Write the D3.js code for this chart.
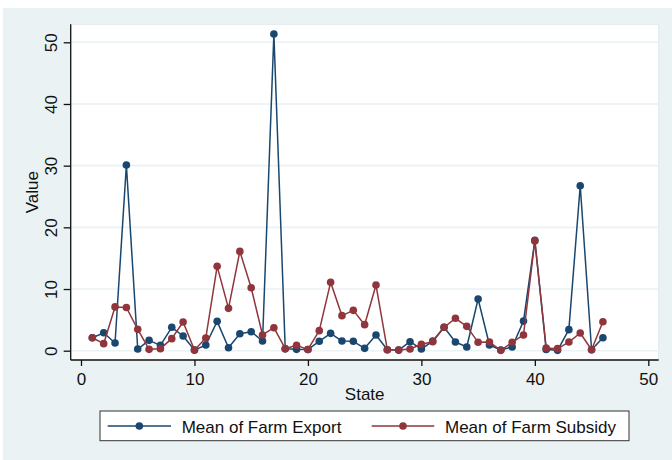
<!DOCTYPE html>
<html>
<head>
<meta charset="utf-8">
<script src="https://cdn.jsdelivr.net/npm/d3@7"></script>
<style>
  html, body { margin: 0; padding: 0; background: #ffffff; }
  svg { display: block; }
  text { font-family: "Liberation Sans", Arial, sans-serif; fill: #111; }
</style>
</head>
<body>
<div id="chart"></div>
<script>
// State index 1..46
const states = d3.range(1, 47);

// Mean of Farm Export by state
const farmExport = [2.1, 2.9, 1.25, 30.1, 0.27, 1.68, 0.87, 3.79, 2.38, 0.1,
  0.92, 4.76, 0.49, 2.76, 3.08, 1.57, 51.35, 0.3, 0.22, 0.2,
  1.52, 2.81, 1.57, 1.52, 0.38, 2.55, 0.15, 0.1, 1.46, 0.27,
  1.57, 3.79, 1.41, 0.6, 8.38, 0.92, 0.1, 0.6, 4.8, 17.9,
  0.2, 0.06, 3.41, 26.75, 0.15, 2.1];

// Mean of Farm Subsidy by state
const farmSubsidy = [2.1, 1.14, 7.1, 7.0, 3.46, 0.22, 0.33, 1.95, 4.65, 0.1,
  2.06, 13.68, 6.87, 16.1, 10.2, 2.55, 3.73, 0.33, 0.87, 0.2,
  3.25, 11.08, 5.68, 6.54, 4.22, 10.65, 0.15, 0.1, 0.27, 1.03,
  1.46, 3.8, 5.25, 3.95, 1.36, 1.4, 0.06, 1.36, 2.55, 17.8,
  0.43, 0.33, 1.4, 2.87, 0.15, 4.7];

const xTicks = [0, 10, 20, 30, 40, 50];
const yTicks = [0, 10, 20, 30, 40, 50];
const seriesNames = ["Mean of Farm Export", "Mean of Farm Subsidy"];
const seriesColors = ["#1a476f", "#90353b"];

const W = 672, H = 460;
const bg = "#eaf2f3";

const svg = d3.select("#chart").append("svg")
  .attr("width", W).attr("height", H);

// outer graph region
svg.append("rect").attr("x", 3).attr("y", 8)
  .attr("width", W - 3).attr("height", H - 8).attr("fill", bg);

// plot region
const plot = { left: 70.7, right: 658.7, top: 24.3, bottom: 360 };
svg.append("rect")
  .attr("x", plot.left).attr("y", plot.top)
  .attr("width", plot.right - plot.left).attr("height", plot.bottom - plot.top)
  .attr("fill", "#ffffff").attr("stroke", "#e2eaec").attr("stroke-width", 1);

const x = d3.scaleLinear().domain([0, 50]).range([81, 648.3]);
const y = d3.scaleLinear().domain([0, 50]).range([350.7, 42.3]);

// horizontal grid lines
svg.append("g").selectAll("line").data(yTicks).join("line")
  .attr("x1", plot.left).attr("x2", plot.right)
  .attr("y1", d => y(d)).attr("y2", d => y(d))
  .attr("stroke", bg).attr("stroke-width", 1.6);

// y axis
const yAxis = svg.append("g")
  .attr("transform", `translate(${plot.left},0)`)
  .call(d3.axisLeft(y).tickValues(yTicks).tickSize(7).tickPadding(0).tickFormat(d3.format("d")));
yAxis.select(".domain").attr("d", `M0,${plot.top}V${plot.bottom}`)
  .attr("stroke", "#111").attr("stroke-width", 1.3);
yAxis.selectAll(".tick line").attr("stroke", "#111").attr("stroke-width", 1.3);
yAxis.selectAll(".tick text")
  .attr("x", null).attr("dy", null)
  .attr("text-anchor", "middle")
  .attr("transform", `translate(${56.7 - plot.left},0) rotate(-90)`)
  .attr("font-size", 17).attr("fill", "#111");

// x axis
const xAxis = svg.append("g")
  .attr("transform", `translate(0,${plot.bottom})`)
  .call(d3.axisBottom(x).tickValues(xTicks).tickSize(6).tickPadding(0).tickFormat(d3.format("d")));
xAxis.select(".domain").attr("d", `M${plot.left},0H${plot.right}`)
  .attr("stroke", "#111").attr("stroke-width", 1.3);
xAxis.selectAll(".tick line").attr("stroke", "#111").attr("stroke-width", 1.3);
xAxis.selectAll(".tick text")
  .attr("y", 24.5).attr("dy", null)
  .attr("font-size", 17).attr("fill", "#111");

// axis titles
svg.append("text").attr("x", (plot.left + plot.right) / 2).attr("y", 400.3)
  .attr("text-anchor", "middle").attr("font-size", 17).text("State");
svg.append("text")
  .attr("transform", `translate(38.4,${(plot.top + plot.bottom) / 2}) rotate(-90)`)
  .attr("text-anchor", "middle").attr("font-size", 17).text("Value");

// series lines with markers
const line = d3.line().x(d => x(d[0])).y(d => y(d[1]));
[farmExport, farmSubsidy].forEach((vals, i) => {
  const pts = states.map((s, j) => [s, vals[j]]);
  const g = svg.append("g");
  g.append("path").attr("d", line(pts)).attr("fill", "none")
    .attr("stroke", seriesColors[i]).attr("stroke-width", 1.5)
    .attr("stroke-linejoin", "round");
  g.selectAll("circle").data(pts).join("circle")
    .attr("cx", d => x(d[0])).attr("cy", d => y(d[1])).attr("r", 3.8)
    .attr("fill", seriesColors[i]);
});

// legend
const leg = svg.append("g");
leg.append("rect").attr("x", 100).attr("y", 411)
  .attr("width", 529).attr("height", 29.7)
  .attr("fill", "#ffffff").attr("stroke", "#333").attr("stroke-width", 1);
const legItems = [
  { x0: 107.7, x1: 171, tx: 181.7 },
  { x0: 371.7, x1: 434.3, tx: 445 }
];
legItems.forEach((it, i) => {
  leg.append("line").attr("x1", it.x0).attr("x2", it.x1)
    .attr("y1", 426).attr("y2", 426)
    .attr("stroke", seriesColors[i]).attr("stroke-width", 1.5);
  leg.append("circle").attr("cx", (it.x0 + it.x1) / 2).attr("cy", 426).attr("r", 3.8)
    .attr("fill", seriesColors[i]);
  leg.append("text").attr("x", it.tx).attr("y", 433)
    .attr("font-size", 17).text(seriesNames[i]);
});
</script>
</body>
</html>
